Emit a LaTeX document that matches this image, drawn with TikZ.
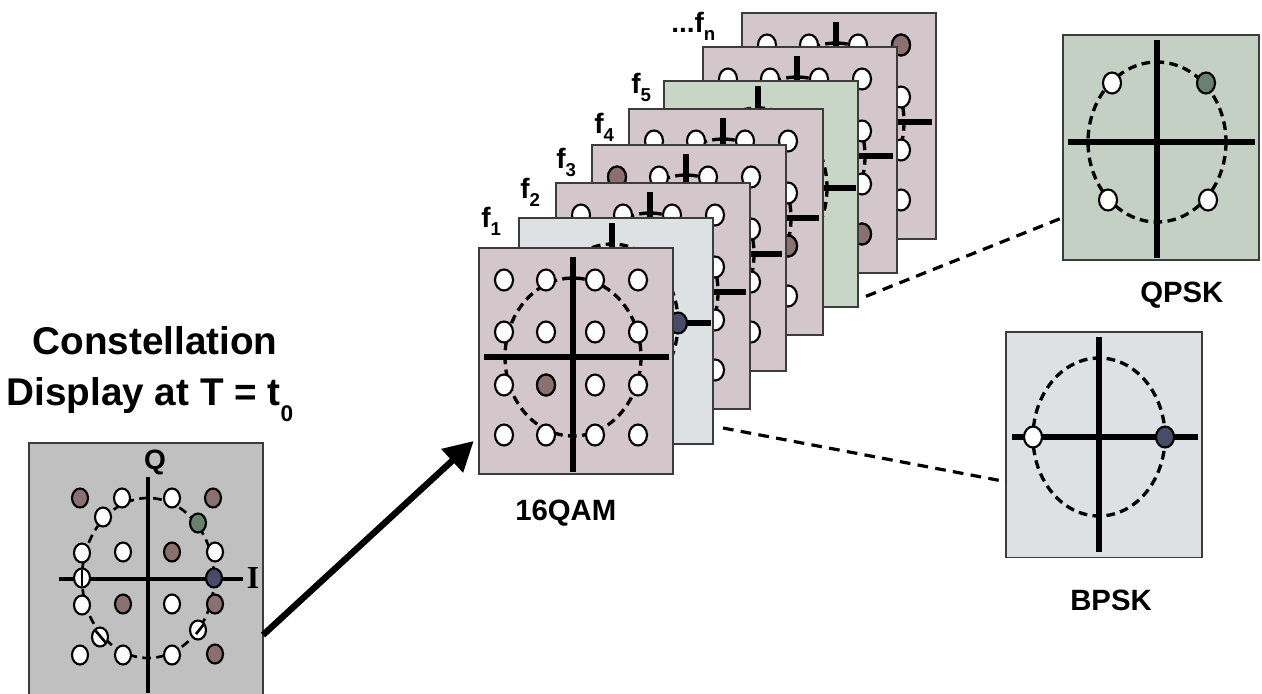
\documentclass[tikz,border=0pt]{standalone}
\usepackage{fontspec}
\setmainfont{Liberation Sans}
\newfontfamily\romanI{Liberation Serif}
\usetikzlibrary{arrows.meta}
\definecolor{mauve}{RGB}{212,199,204}
\definecolor{paleblue}{RGB}{221,225,228}
\definecolor{palegreen}{RGB}{200,214,200}
\definecolor{boxgreen}{RGB}{196,208,196}
\definecolor{dispgray}{RGB}{192,192,192}
\definecolor{ptbrown}{RGB}{139,112,112}
\definecolor{ptnavy}{RGB}{72,76,104}
\definecolor{ptgreen}{RGB}{105,130,110}
\definecolor{frameedge}{RGB}{60,60,60}
\tikzset{
  frm/.style={draw=frameedge, line width=0.9pt, anchor=north west, inner sep=0pt, outer sep=0pt, minimum width=145.5pt, minimum height=169.5pt},
  axisl/.style={line width=3.8pt},
  ringd/.style={line width=2.5pt, dash pattern=on 6.5pt off 4pt},
  dotw/.style={draw=black, line width=1.6pt, fill=white},
  dotbr/.style={draw=black, line width=1.6pt, fill=ptbrown},
  dotnv/.style={draw=black, line width=1.6pt, fill=ptnavy},
  dotgr/.style={draw=black, line width=1.6pt, fill=ptgreen},
  link/.style={line width=2.4pt, dash pattern=on 8pt off 5.5pt},
  bigarrow/.style={line width=4.8pt, -{Triangle[length=22pt,width=23pt]}},
  lbl/.style={font=\fontsize{22}{26}\selectfont\bfseries, anchor=base west, inner sep=0pt},
  flbl/.style={font=\fontsize{21}{22}\selectfont\bfseries, anchor=base west, inner sep=0pt},
}
\def\ptrx{9}
\def\ptry{10.5}
\newcommand\ptmark[3]{\draw[#1] (#2,#3) ellipse [x radius=\ptrx, y radius=\ptry];}
\newcommand\qamframe[5]{%
  \node[frm, fill=#4] (#1) at (#2,#3) {};
  \begin{scope}[shift={(#2,#3)}]
    \draw[ringd] (94,109) ellipse [x radius=68, y radius=79];
    \draw[axisl] (94,9) -- (94,224);
    \draw[axisl] (5,109) -- (190,109);
    \foreach \cx in {25,67,116,159}{\foreach \cy in {32,84,137,187}{\ptmark{dotw}{\cx}{\cy}}}
    \foreach \cx/\cy in {#5}{\ptmark{dotbr}{\cx}{\cy}}
  \end{scope}}
\newcommand\qpskcontent[2]{%
  \begin{scope}[shift={(#1,#2)}]
    \draw[ringd] (94,107) ellipse [x radius=69, y radius=80];
    \draw[axisl] (94,5) -- (94,223);
    \draw[axisl] (5,107) -- (192,107);
    \ptmark{dotw}{49}{48}
    \ptmark{dotgr}{143}{48}
    \ptmark{dotw}{45}{165}
    \ptmark{dotw}{145}{165}
  \end{scope}}
\newcommand\bpskcontent[2]{%
  \begin{scope}[shift={(#1,#2)}]
    \draw[ringd] (93,105) ellipse [x radius=66, y radius=79];
    \draw[axisl] (93,5) -- (93,220);
    \draw[axisl] (6,105) -- (192,105);
    \ptmark{dotw}{27}{105}
    \ptmark{dotnv}{159}{105}
  \end{scope}}
\newcommand\flab[4]{\node[flbl] (#1) at (#2,#3) {#4};}
\newcommand\subn[1]{\raisebox{-6pt}{\fontsize{14}{14}\selectfont #1}}
\begin{document}
\begin{tikzpicture}[x=0.75pt,y=-0.75pt]
\useasboundingbox (0,0) rectangle (1262,693);
\fill[white] (0,0) rectangle (1262,693);

% title
\node[font=\fontsize{29}{30}\selectfont\bfseries, anchor=base, inner sep=0pt] (T1) at (155,354) {Constellation};
\node[font=\fontsize{29}{30}\selectfont\bfseries, anchor=base, inner sep=0pt] (T2) at (150,405) {Display at T = t\raisebox{-12pt}{\fontsize{17}{17}\selectfont 0}};

% constellation display box
\node[frm, fill=dispgray, minimum width=175.5pt, minimum height=195pt] (D) at (29,443) {};
\begin{scope}
  \def\ptrx{8}\def\ptry{9.5}
  \draw[ringd, line width=2pt] (148,578) ellipse [x radius=66, y radius=80];
  \draw[line width=3.4pt] (148,477) -- (148,693);
  \draw[line width=3.4pt] (59,579) -- (243,579);
  \foreach \cx/\cy in {122/498,172/498,103/517,82/553,123/552,215/552,82/578,82/605,172/604,100/637,198/630,80/655,123/655,172/655}{\ptmark{dotw}{\cx}{\cy}}
  \foreach \cx/\cy in {80/498,213/498,172/552,123/604,215/604,215/654}{\ptmark{dotbr}{\cx}{\cy}}
  \ptmark{dotgr}{198}{523}
  \ptmark{dotnv}{214}{578}
  \draw[line width=2pt] (95,630) -- (106,643);
  \draw[line width=2pt] (196,634) -- (204,624);
  \draw[line width=2pt] (82,570) -- (82,586);
\end{scope}
\node[font=\fontsize{21}{21}\selectfont\bfseries, inner sep=0pt] (Qlab) at (155,462) {Q};
\node[font=\fontsize{24}{24}\selectfont\romanI\bfseries, inner sep=0pt] (Ilab) at (253,578) {I};

% stack of frames, back to front
\qamframe{F7}{742}{13}{mauve}{159/32}
\qamframe{F6}{703}{47}{mauve}{159/187}
\node[frm, fill=palegreen] (F5) at (664,81) {};
\qpskcontent{664}{81}
\qamframe{F4}{629}{109}{mauve}{159/137}
\qamframe{F3}{592}{145}{mauve}{25/32}
\qamframe{F2}{556}{183}{mauve}{25/187}
\node[frm, fill=paleblue] (F1) at (519,218) {};
\bpskcontent{519}{218}
\qamframe{F0}{479}{248}{mauve}{67/137}

% frequency labels
\flab{L1}{481}{227}{f\subn{1}}
\flab{L2}{520}{198}{f\subn{2}}
\flab{L3}{556}{168}{f\subn{3}}
\flab{L4}{594}{133}{f\subn{4}}
\flab{L5}{631}{93}{f\subn{5}}
\flab{Ln}{671}{32}{...f\subn{n}}

\node[lbl] (QAMlab) at (515,520) {16QAM};

% QPSK box
\node[frm, fill=boxgreen, minimum width=147pt, minimum height=168.75pt] (Q) at (1063,35) {};
\qpskcontent{1063}{35}
\node[lbl] (QPSKlab) at (1140,302) {QPSK};

% BPSK box
\node[frm, fill=paleblue, minimum width=147pt, minimum height=169pt] (B) at (1006,332) {};
\bpskcontent{1006}{332}
\node[lbl] (BPSKlab) at (1070,610) {BPSK};

% connectors
\draw[bigarrow] ([yshift=-46.5pt]D.east) -- ([xshift=-4pt,yshift=-60pt]F0.west);
\draw[link] ([xshift=6pt,yshift=8pt]F5.south east) -- ([yshift=-52.5pt]Q.west);
\draw[link] ([xshift=7.5pt,yshift=12pt]F1.south east) -- ([yshift=-27.75pt]B.west);
\end{tikzpicture}
\end{document}
